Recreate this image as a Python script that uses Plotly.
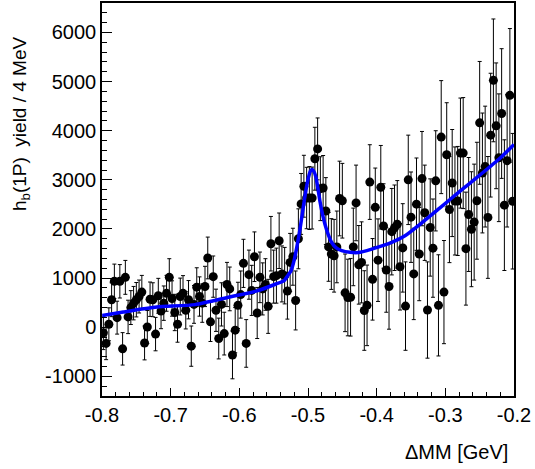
import plotly.graph_objects as go

# Histogram binning: 150 bins of 4 MeV from -0.8 to -0.2 GeV
x_lo = -0.8
bin_w = 0.004
n_bins = 150
bin_centers = [round(x_lo + bin_w * (i + 0.5), 4) for i in range(n_bins)]

# h_b(1P) yield per bin
yield_vals = [
    -115, -330, 60, 560, 935, 195, 935, -440, 1015, 210,
    400, 490, 560, 625, 715, -320, 5, 570, 560, -140,
    640, 330, 490, 690, 1015, 585, 300, 60, 625, 690,
    345, 560, -385, 465, 815, 625, 490, 830, 1410, 110,
    1030, 345, -230, 465, -130, 870, 780, -565, -60, 445,
    665, 1300, -330, 1070, 750, 1435, 290, 1015, 780, 870,
    425, 1700, 1030, 1050, 1760, 1085, 1050, 735, 1320, 1435,
    545, 1800, 2510, 2870, 2630, 2630, 2630, 3430, 3630, 2820,
    2835, 2365, 1635, 1490, 1455, 1635, 2620, 2575, 700, 605,
    610, 1635, 2530, 1270, 1320, 340, 445, 2955, 975, 2440,
    1365, 2850, 2060, 1165, 830, 1945, 2025, 2095, 1230, 1615,
    430, 3000, 2240, 1085, 2505, 1490, 3025, 2330, 350, 2030,
    1610, 2980, 445, 3870, 715, 3510, 2395, 2935, 2570, 2570,
    3545, 3545, 1600, 2295, 1995, 2140, 2575, 4160, 3140, 3270,
    2235, 3910, 5025, 4100, 3450, 4350, 2485, 3390, 4720, 2565,
]

# symmetric errors per bin
yield_err = [
    340, 330, 335, 345, 350, 335, 340, 330, 345, 340,
    345, 340, 350, 335, 340, 345, 335, 350, 345, 340,
    355, 360, 350, 365, 380, 360, 370, 365, 375, 360,
    380, 390, 410, 385, 395, 400, 390, 410, 425, 400,
    420, 430, 415, 440, 435, 450, 445, 485, 460, 470,
    480, 490, 485, 500, 510, 505, 520, 515, 530, 525,
    550, 555, 540, 560, 565, 570, 575, 570, 590, 580,
    600, 610, 620, 630, 625, 640, 630, 640, 630, 650,
    660, 680, 700, 720, 740, 730, 760, 760, 790, 780,
    790, 790, 770, 800, 825, 810, 820, 760, 830, 800,
    840, 850, 860, 860, 870, 880, 870, 890, 880, 900,
    900, 910, 920, 930, 940, 950, 960, 970, 980, 990,
    1000, 1020, 1030, 1150, 1050, 1060, 1080, 1090, 1100, 1110,
    1120, 1130, 1150, 1160, 1170, 1180, 1190, 1250, 1220, 1230,
    1240, 1260, 1250, 1280, 1300, 1320, 1330, 1350, 1360, 1380,
]

# fit curve samples
fit_x = [-0.7996, -0.769, -0.720, -0.6646, -0.616, -0.5757, -0.5466, -0.5349,
         -0.5291, -0.5247, -0.5204, -0.5160, -0.5116, -0.5073, -0.5029, -0.4993,
         -0.4964, -0.4938, -0.4913, -0.4884, -0.4855, -0.4826, -0.4789, -0.4753,
         -0.4709, -0.4655, -0.4593, -0.4509, -0.4389, -0.4267, -0.4072, -0.3781,
         -0.3587, -0.3369, -0.3078, -0.2786, -0.2495, -0.2204, -0.2]
fit_y = [240, 310, 410, 460, 610, 735, 880, 950,
         1060, 1150, 1350, 1650, 2000, 2400, 2800, 3050,
         3180, 3210, 3170, 3050, 2820, 2565, 2300, 2095,
         1900, 1725, 1620, 1560, 1525, 1520, 1590, 1725,
         1860, 2095, 2430, 2770, 3100, 3440, 3720]

# tick labels
x_tickvals = [-0.8, -0.7, -0.6, -0.5, -0.4, -0.3, -0.2]
x_ticktext = ["-0.8", "-0.7", "-0.6", "-0.5", "-0.4", "-0.3", "-0.2"]
y_tickvals = [-1000, 0, 1000, 2000, 3000, 4000, 5000, 6000]
y_ticktext = ["-1000", "0", "1000", "2000", "3000", "4000", "5000", "6000"]

fig = go.Figure()

fig.add_trace(go.Scatter(
    x=bin_centers, y=yield_vals, mode="markers",
    marker=dict(color="black", size=9),
    error_y=dict(type="data", array=yield_err, visible=True,
                 color="black", thickness=1, width=2),
    showlegend=False,
))

fig.add_trace(go.Scatter(
    x=fit_x, y=fit_y, mode="lines",
    line=dict(color="rgb(0,0,255)", width=3.5, shape="spline", smoothing=0.6),
    showlegend=False,
))

axis_font = dict(family="Liberation Sans, Arial, sans-serif", size=20, color="black")

fig.update_layout(
    width=535, height=469,
    margin=dict(l=102, r=21, t=1, b=73),
    paper_bgcolor="white", plot_bgcolor="white",
    font=axis_font,
    xaxis=dict(
        range=[-0.8, -0.2], tickvals=x_tickvals, ticktext=x_ticktext,
        ticks="inside", ticklen=8, tickcolor="black", tickwidth=1,
        minor=dict(dtick=0.02, tick0=-0.8, ticks="inside", ticklen=4, tickcolor="black"),
        showline=True, linecolor="black", linewidth=1.5, mirror=True,
        showgrid=False, zeroline=False, tickfont=axis_font,
    ),
    yaxis=dict(
        range=[-1400, 6600], tickvals=y_tickvals, ticktext=y_ticktext,
        ticks="inside", ticklen=10, tickcolor="black", tickwidth=1,
        minor=dict(dtick=200, tick0=0, ticks="inside", ticklen=5, tickcolor="black"),
        showline=True, linecolor="black", linewidth=1.5, mirror=True,
        showgrid=False, zeroline=False, tickfont=axis_font,
    ),
    annotations=[
        dict(text="h<sub>b</sub>(1P)  yield / 4 MeV", xref="paper", yref="paper",
             x=-0.197, y=0.694, textangle=-90, showarrow=False,
             xanchor="center", yanchor="middle",
             font=dict(family="Liberation Sans, Arial, sans-serif", size=19, color="black")),
        dict(text="ΔMM [GeV]", xref="paper", yref="paper",
             x=0.99, y=-0.142, showarrow=False,
             xanchor="right", yanchor="middle",
             font=dict(family="Liberation Sans, Arial, sans-serif", size=20, color="black")),
    ],
)

fig.write_html("out.html",
               config={"displayModeBar": False},
               post_script="document.body.style.margin='0';document.body.style.padding='0';")
